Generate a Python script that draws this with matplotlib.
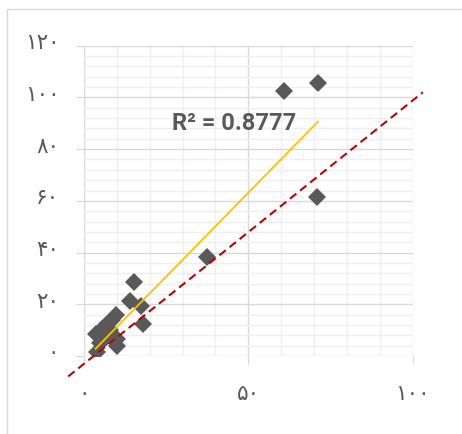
import numpy as np
import matplotlib.pyplot as plt
from matplotlib.ticker import MultipleLocator, FixedLocator
from matplotlib.patches import Rectangle
from matplotlib.transforms import ScaledTranslation

# scatter points
x = [3.5, 4.1, 5.0, 5.5, 6.5, 7.0, 8.0, 8.5, 9.6, 9.9, 10.1,
     14.0, 15.2, 17.2, 17.8, 37.5, 60.9, 71.2, 70.8]
y = [8.5, 1.4, 5.0, 10.5, 7.0, 12.5, 10.0, 14.0, 16.0, 4.0, 6.6,
     21.4, 28.7, 19.5, 12.4, 38.2, 102.6, 105.5, 61.4]

# linear trend line shown in the chart
trend_slope = 1.298
trend_intercept = -1.74
r2_text = "R² = 0.8777"

# dashed reference line end points
ref_x = [-4.8, 103.1]
ref_y = [-7.9, 102.0]

x_ticks = [0, 50, 100]
x_labels = ["۰", "۵۰", "۱۰۰"]
y_ticks = [0, 20, 40, 60, 80, 100, 120]
y_labels = ["۰", "۲۰", "۴۰", "۶۰", "۸۰", "۱۰۰", "۱۲۰"]

grey = "#595959"
major_c = "#d9d9d9"
minor_c = "#efefef"

fig = plt.figure(figsize=(4.62, 4.35), dpi=100)
# chart frame
fig.patches.append(Rectangle((7/462, -0.1), 1.2, (435-10)/435 + 0.1,
                             transform=fig.transFigure, fill=False,
                             edgecolor="#d9d9d9", linewidth=1.0))
ax = fig.add_axes([84/462, 78/435, 328.7/462, 310.3/435])

ax.set_xlim(0, 100)
ax.set_ylim(0, 120)
for s in ax.spines.values():
    s.set_visible(False)

ax.xaxis.set_major_locator(FixedLocator(x_ticks))
ax.yaxis.set_major_locator(FixedLocator(y_ticks))
ax.xaxis.set_minor_locator(MultipleLocator(10))
ax.yaxis.set_minor_locator(MultipleLocator(4))
ax.set_xticklabels(x_labels)
ax.set_yticklabels(y_labels)

ax.grid(which="minor", color=minor_c, linewidth=1.0, zorder=0)
ax.grid(which="major", color=major_c, linewidth=1.0, zorder=0)
ax.set_axisbelow(True)

ax.tick_params(which="major", length=5.8, width=0.9, color=major_c,
               labelcolor=grey, labelsize=15.5)
ax.tick_params(axis="y", which="major", pad=12)
ax.tick_params(axis="x", which="major", pad=14)
ax.tick_params(which="minor", length=0)
for lab in ax.get_xticklabels() + ax.get_yticklabels():
    lab.set_family(["DejaVu Sans"])
# y labels sit a little above their grid lines in the original
up = ScaledTranslation(0, 4 / 72, fig.dpi_scale_trans)
for lab in ax.get_yticklabels():
    lab.set_transform(lab.get_transform() + up)

ax.plot(x, y, linestyle="none", marker="D", markersize=9.2,
        color=grey, markeredgewidth=0, zorder=3)

tx = np.array([min(x), max(x)])
ax.plot(tx, trend_slope * tx + trend_intercept, color="#ffc000",
        linewidth=1.3, zorder=4)

ax.plot(ref_x, ref_y, color="#c00000", linewidth=1.5,
        dashes=(3.9, 2.3), clip_on=False, zorder=5)

ax.text(26.8, 90.2, r2_text, fontsize=17, fontweight="bold",
        family=["Roboto", "DejaVu Sans"], color=grey, va="center", ha="left")

fig.savefig("out.png", dpi=100)
